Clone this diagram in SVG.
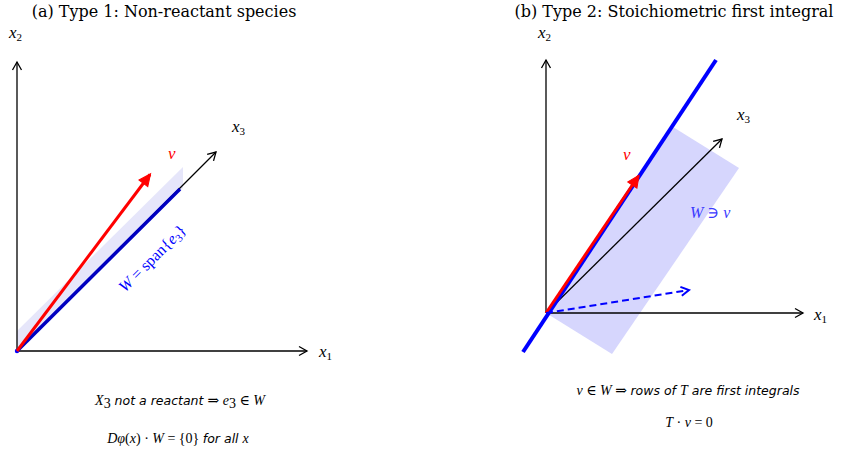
<svg xmlns="http://www.w3.org/2000/svg" width="841" height="452" viewBox="0 0 841 452">
<style>
.title{font-family:"DejaVu Serif","Liberation Serif",serif;font-size:16px;fill:#000;text-anchor:middle}
.m{font-family:"Liberation Serif","DejaVu Serif",serif;font-style:italic;font-size:17px}
.mu{font-family:"Liberation Serif","DejaVu Serif",serif;font-size:16px}
.s{font-family:"DejaVu Sans","Noto Sans",sans-serif;font-style:italic;font-size:12.5px}
.cap{font-family:"Liberation Serif","DejaVu Serif",serif;font-size:14px}
.ax{stroke:#000;stroke-width:1.3;fill:none}
</style>
<defs>
<marker id="open" markerUnits="userSpaceOnUse" markerWidth="20" markerHeight="20" viewBox="-10 -10 20 20" refX="0" refY="0" orient="auto">
<path d="M-8,-4.5 L0,0 L-8,4.5" fill="none" stroke="#000" stroke-width="1.3"/>
</marker>
<marker id="openblue" markerUnits="userSpaceOnUse" markerWidth="20" markerHeight="20" viewBox="-10 -10 20 20" refX="0" refY="0" orient="auto">
<path d="M-8,-4.5 L0,0 L-8,4.5" fill="none" stroke="#0000ff" stroke-width="2"/>
</marker>
<marker id="red" markerUnits="userSpaceOnUse" markerWidth="30" markerHeight="30" viewBox="-15 -15 30 30" refX="6" refY="0" orient="auto">
<path d="M-5,-5.5 L7,0 L-5,5.5 z" fill="#ff0000" stroke="#ff0000" stroke-width="1"/>
</marker>
</defs>

<text class="title" x="164" y="17">(a) Type 1: Non-reactant species</text>
<text class="title" x="674" y="17">(b) Type 2: Stoichiometric first integral</text>

<g id="panelA-shading">
<polygon points="17,331 183,167 183,188 17,351" fill="#e6e6fa"/>
</g>
<g id="panelB-shading">
<polygon points="546,313 673,127 739,168 612,354" fill="#d6d6fd"/>
</g>

<g id="connectors">
<line class="ax" x1="17" y1="351" x2="307" y2="351" marker-end="url(#open)"/>
<line class="ax" x1="17" y1="351" x2="17" y2="62" marker-end="url(#open)"/>
<line class="ax" x1="17" y1="351" x2="216" y2="152" marker-end="url(#open)"/>
<line x1="17" y1="351" x2="180" y2="189" stroke="#0000c0" stroke-width="3.5"/>
<circle cx="17" cy="351" r="2.2" fill="#0000ff"/>
<line x1="17" y1="351" x2="150" y2="174.5" stroke="#ff0000" stroke-width="3" marker-end="url(#red)"/>

<line class="ax" x1="546" y1="313" x2="803" y2="313" marker-end="url(#open)"/>
<line class="ax" x1="546" y1="313" x2="546" y2="60" marker-end="url(#open)"/>
<line class="ax" x1="546" y1="313" x2="722" y2="139" marker-end="url(#open)"/>
<line x1="523" y1="352" x2="716" y2="60" stroke="#0000ff" stroke-width="4"/>
<line x1="546" y1="313" x2="638.5" y2="176" stroke="#ff0000" stroke-width="3" marker-end="url(#red)"/>
<line x1="546" y1="313" x2="689" y2="290" stroke="#0000ff" stroke-width="2" stroke-dasharray="7,4" marker-end="url(#openblue)"/>
</g>

<g id="labelsA">
<text class="m" x="319" y="357">x<tspan font-size="11" dy="3" font-style="normal">1</tspan></text>
<text class="m" x="9" y="38">x<tspan font-size="11" dy="3" font-style="normal">2</tspan></text>
<text class="m" x="232" y="132">x<tspan font-size="11" dy="3" font-style="normal">3</tspan></text>
<text class="m" x="168" y="159" fill="#ff0000">v</text>
<text class="mu" x="0" y="0" fill="#0000ff" text-anchor="middle" transform="translate(156,262) rotate(-45)"><tspan font-style="italic">W</tspan> = span{<tspan font-style="italic">e</tspan><tspan font-size="11" dy="3">3</tspan><tspan dy="-3">}</tspan></text>
</g>

<g id="labelsB">
<text class="m" x="814" y="320">x<tspan font-size="11" dy="3" font-style="normal">1</tspan></text>
<text class="m" x="538" y="38">x<tspan font-size="11" dy="3" font-style="normal">2</tspan></text>
<text class="m" x="737" y="120">x<tspan font-size="11" dy="3" font-style="normal">3</tspan></text>
<text class="m" x="623" y="160" fill="#ff0000">v</text>
<text class="mu" x="690" y="218" fill="#3a3aff"><tspan font-style="italic">W</tspan> ∋ <tspan font-style="italic">v</tspan></text>
</g>

<g id="captionA">
<text x="180" y="405" text-anchor="middle"><tspan class="cap" font-style="italic">X</tspan><tspan class="cap" font-size="9" dy="3">3</tspan><tspan class="s" dy="-3"> not a reactant </tspan><tspan class="cap"> ⇒ </tspan><tspan class="cap" font-style="italic">e</tspan><tspan class="cap" font-size="9" dy="3">3</tspan><tspan class="cap" dy="-3"> ∈ </tspan><tspan class="cap" font-style="italic">W</tspan></text>
<text x="178" y="443" text-anchor="middle"><tspan class="cap" font-style="italic">Dφ</tspan><tspan class="cap">(</tspan><tspan class="cap" font-style="italic">x</tspan><tspan class="cap">) · </tspan><tspan class="cap" font-style="italic">W</tspan><tspan class="cap"> = {0} </tspan><tspan class="s">for all </tspan><tspan class="cap" font-style="italic">x</tspan></text>
</g>

<g id="captionB">
<text x="688" y="395" text-anchor="middle"><tspan class="cap" font-style="italic">v</tspan><tspan class="cap"> ∈ </tspan><tspan class="cap" font-style="italic">W</tspan><tspan class="cap"> ⇒ </tspan><tspan class="s"> rows of </tspan><tspan class="cap" font-style="italic">T</tspan><tspan class="s"> are first integrals</tspan></text>
<text x="689" y="427" text-anchor="middle"><tspan class="cap" font-style="italic">T</tspan><tspan class="cap"> · </tspan><tspan class="cap" font-style="italic">v</tspan><tspan class="cap"> = 0</tspan></text>
</g>
</svg>
